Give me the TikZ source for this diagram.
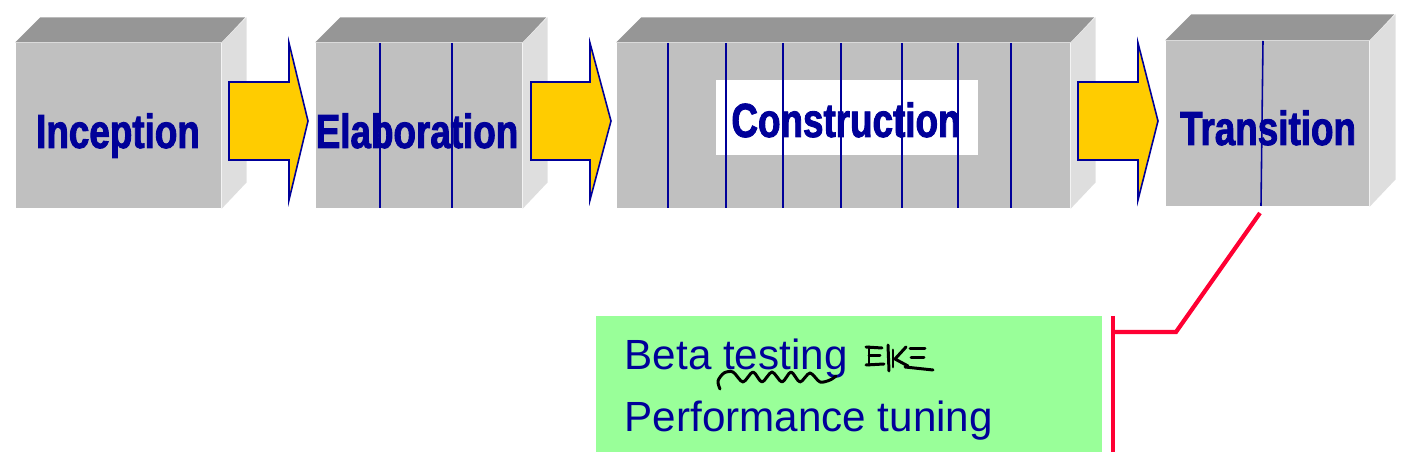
\documentclass[tikz,border=0pt]{standalone}
\usepackage{fontspec}
\setmainfont{Liberation Sans}
\newfontfamily\titlefont[FakeStretch=0.77,FakeBold=1.8]{Liberation Sans Bold}
\usetikzlibrary{fit}
\definecolor{frontgray}{HTML}{C0C0C0}
\definecolor{topgray}{HTML}{969696}
\definecolor{sidegray}{HTML}{DEDEDE}
\definecolor{navyblue}{HTML}{000099}
\definecolor{arrowyellow}{HTML}{FFCC00}
\definecolor{calloutred}{HTML}{FF0033}
\definecolor{notegreen}{HTML}{99FF99}
\tikzset{
  frontface/.style={fill=frontgray, draw=none, inner sep=0pt},
  topface/.style={fill=topgray},
  sideface/.style={fill=sidegray},
  title/.style={font=\titlefont\fontsize{13.6}{15}\selectfont, text=navyblue, anchor=base, inner sep=0pt},
  phasearrow/.style={fill=arrowyellow, draw=navyblue, line width=0.45pt, line join=miter},
  iterline/.style={draw=navyblue, line width=0.45pt},
  callout/.style={draw=calloutred, line width=1.2pt},
  notebox/.style={fill=notegreen, draw=none, inner sep=0pt},
  notetext/.style={font=\fontsize{12}{14}\selectfont, text=navyblue, anchor=base west, inner sep=0pt},
  ink/.style={draw=black, line width=0.85pt, line cap=round, line join=round},
}
\newcommand\phasebox[6]{%
  \node[frontface, fit={(#2,#3)(#4,#5)}] (#1) {};
  \fill[topface] (#1.north west) -- ++(#6,-#6) -- ++(#4-#2,0) -- (#1.north east) -- cycle;
  \fill[sideface] (#1.north east) -- ++(#6,-#6) -- ++(0,#5-#3) -- (#1.south east) -- cycle;
}
\newcommand\phasearr[4]{%
  \draw[phasearrow] (#2,82) -- (#3,82) -- (#3,43) -- (#4,121) -- (#3,200) -- (#3,160) -- (#2,160) -- cycle;
  \coordinate (#1) at (#4,121);
}
\begin{document}
\begin{tikzpicture}[x=0.01cm, y=-0.01cm]
\useasboundingbox (0,0) rectangle (1426,452);
% boxes
\phasebox{inc}{16}{43}{221}{208}{25}
\phasebox{ela}{316}{43}{522}{208}{25}
\phasebox{con}{617}{43}{1070}{208}{25}
\phasebox{tra}{1166}{41}{1369}{206}{26}
% arrows
\phasearr{a1}{229}{289}{308}
\phasearr{a2}{531}{590}{611}
\phasearr{a3}{1078}{1138}{1158}
% construction label background
\node[fill=white, inner sep=0pt, fit={(716,80)(978,155)}] (conbg) {};
% titles
\node[title] (inct) at (118,148) {Inception};
\node[title] (elat) at (417,148) {Elaboration};
\node[title] (cont) at (846,137) {Construction};
\node[title] (trat) at (1268,145) {Transition};
% iteration lines
\foreach \x in {380,452} \draw[iterline] (\x,43) -- (\x,208);
\foreach \x in {668,726,783,841,902,958,1011} \draw[iterline] (\x,43) -- (\x,208);
\draw[iterline] (1263,41) -- (1261,206);
% note box
\node[notebox, fit={(596,316)(1102,452)}] (note) {};
\node[notetext] (beta) at (624,370) {Beta testing};
\node[notetext] (perf) at (624,432) {Performance tuning};
% callout
\coordinate (cstart) at (1260,213);
\coordinate (ckink) at (1176,332);
\coordinate (cbar) at (1113,332);
\coordinate (btop) at (1113,316);
\coordinate (bbot) at (1113,452);
\draw[callout] (cstart) -- (ckink) -- (cbar);
\draw[callout] (btop) -- (bbot);
% handwritten marks
\draw[ink] plot[smooth] coordinates {(720,389) (718,381) (724,373) (733,372) (743,382) (753,372) (762,382) (772,372) (782,382) (791,372) (800,382) (810,373) (820,382) (830,380) (836,376)};
\draw[ink] (866,347) -- (882,348);
\draw[ink] (869,347) -- (869,365);
\draw[ink] (869,356) -- (880,356);
\draw[ink] (866,365) -- (884,364);
\draw[ink] (888,345) -- (889,371);
\draw[ink] (893,350) -- (893,367);
\draw[ink] (906,347) -- (895,359) -- (908,366);
\draw[ink] (910,349) -- (925,349);
\draw[ink] (911,358) -- (924,358);
\draw[ink] (905,367) -- (933,370);
\end{tikzpicture}
\end{document}
